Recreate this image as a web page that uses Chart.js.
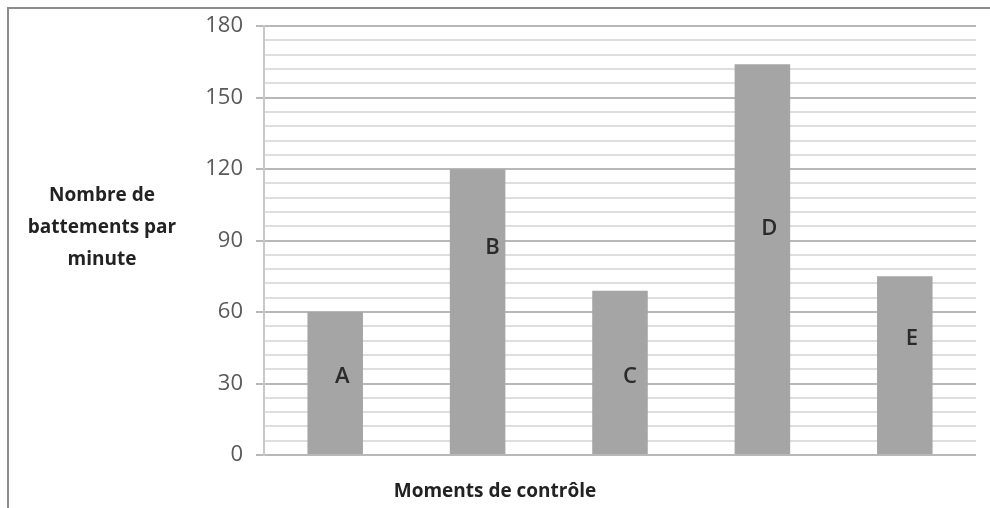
<!DOCTYPE html>
<html lang="fr">
<head>
  <meta charset="UTF-8">
  <title>Nombre de battements par minute</title>
  <script src="https://cdn.jsdelivr.net/npm/chart.js"></script>
  <style>
    html, body { margin: 0; padding: 0; background: #fff; }
    #wrap { width: 990px; height: 508px; }
  </style>
</head>
<body>
  <div id="wrap"><canvas id="graphique" width="990" height="508"></canvas></div>

  <script>
    // Données
    const moments = ['A', 'B', 'C', 'D', 'E'];
    const battements = [60, 120, 69, 164, 75];
    // hauteur (en battements) où chaque lettre est écrite dans la barre
    const hauteurLettre = [33, 87, 33, 95, 49];
    const yMin = 0, yMax = 180, pasMineur = 6, pasMajeur = 30;

    const titreY = ['Nombre de', 'battements par', 'minute'];
    const titreX = 'Moments de contrôle';

    const police = '"Open Sans", "Liberation Sans", sans-serif';

    // cadre, lettres dans les barres et titres d'axes
    const decor = {
      id: 'decor',
      beforeDraw(chart) {
        const c = chart.ctx;
        c.save();
        c.strokeStyle = '#8c8c8c';
        c.lineWidth = 2;
        c.beginPath();
        c.moveTo(8, 508);
        c.lineTo(8, 8);
        c.lineTo(990, 8);
        c.stroke();
        c.restore();
      },
      afterDatasetsDraw(chart) {
        const c = chart.ctx;
        const xs = chart.scales.x, ys = chart.scales.y;
        const area = chart.chartArea;
        const decal = [7, 15, 10, 7, 7];
        c.save();
        c.fillStyle = '#2a2a2a';
        c.font = '600 22px ' + police;
        c.textAlign = 'center';
        c.textBaseline = 'middle';
        moments.forEach((m, i) => {
          c.fillText(m, xs.getPixelForValue(i) + decal[i], ys.getPixelForValue(hauteurLettre[i]));
        });

        c.fillStyle = '#222';
        c.font = 'bold 19px ' + police;
        titreY.forEach((t, i) => {
          c.fillText(t, area.left - 162, area.top + 169 + i * 32);
        });
        c.fillText(titreX, area.left + 231, area.bottom + 37);
        c.restore();
      }
    };

    const ctx = document.getElementById('graphique').getContext('2d');
    new Chart(ctx, {
      type: 'bar',
      data: {
        labels: moments,
        datasets: [{
          data: battements,
          backgroundColor: '#a5a5a5',
          borderWidth: 0,
          categoryPercentage: 1,
          barPercentage: 0.39
        }]
      },
      options: {
        responsive: false,
        animation: false,
        layout: { padding: { top: 24, right: 14, bottom: 53, left: 0 } },
        plugins: {
          legend: { display: false },
          tooltip: { enabled: false }
        },
        scales: {
          x: { display: false },
          y: {
            min: yMin,
            max: yMax,
            afterFit(scale) { scale.width = 264; },
            border: { color: '#c8c8c8', width: 2 },
            grid: {
              color: c => c.tick.value % pasMajeur === 0 ? '#b8b8b8' : '#dedede',
              lineWidth: 2,
              tickLength: 8,
              tickColor: c => c.tick.value % pasMajeur === 0 ? '#b8b8b8' : 'rgba(0,0,0,0)'
            },
            ticks: {
              stepSize: pasMineur,
              autoSkip: false,
              padding: 13,
              color: '#595959',
              font: { family: police, size: 22 },
              callback: v => v % pasMajeur === 0 ? v : ''
            }
          }
        }
      },
      plugins: [decor]
    });
  </script>
</body>
</html>
